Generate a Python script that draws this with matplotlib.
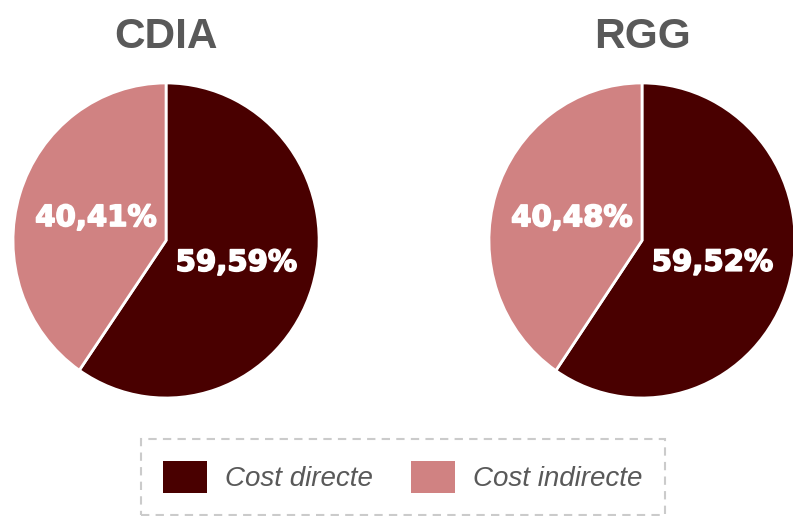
import matplotlib
matplotlib.use("Agg")
import matplotlib.pyplot as plt
from matplotlib.patches import Patch
import matplotlib.patheffects as pe

titles = ["CDIA", "RGG"]
categories = ["Cost directe", "Cost indirecte"]
direct = [59.59, 59.52]
indirect = [40.41, 40.48]
colors = ["#490000", "#D08282"]

fig = plt.figure(figsize=(7.93, 5.16), dpi=100)

# pie boxes in figure fractions (left, right)
boxes = [[0.0164, 0.2287, 0.386, 0.6105],
         [0.6166, 0.2287, 0.386, 0.6105]]


def fmt(p):
    return ("%.2f%%" % p).replace(".", ",")


for i in range(len(titles)):
    ax = fig.add_axes(boxes[i])
    wedges, texts, autotexts = ax.pie(
        [direct[i], indirect[i]], colors=colors, startangle=90,
        counterclock=False, autopct=fmt, pctdistance=0.48,
        wedgeprops=dict(edgecolor="white", linewidth=2))
    for t in autotexts:
        t.set_color("white")
        t.set_fontweight("bold")
        t.set_fontsize(21)
        t.set_family("DejaVu Sans")
        t.set_path_effects([pe.withStroke(linewidth=1.2, foreground="white")])
    ax.set_aspect("auto")
    ax.set_xlim(-1.0, 1.0)
    ax.set_ylim(-1.0, 1.0)
    ax.axis("off")
    cx = boxes[i][0] + boxes[i][2] / 2
    fig.text(cx, 0.907, titles[i], ha="center", va="baseline",
             fontsize=30.5, fontweight="bold", color="#595959",
             family="Liberation Sans")

handles = [Patch(facecolor=c, edgecolor="none") for c in colors]
leg = fig.legend(handles, categories, loc="center", bbox_to_anchor=(0.508, 0.0756),
                 ncol=2, frameon=True, fancybox=False,
                 prop=dict(family="Liberation Sans", style="italic", size=20),
                 handlelength=1.58, handleheight=1.4, handletextpad=0.65,
                 columnspacing=1.37, borderpad=0.8, borderaxespad=0)
for t in leg.get_texts():
    t.set_color("#595959")
frame = leg.get_frame()
frame.set_edgecolor("#BFBFBF")
frame.set_linewidth(1.5)
frame.set_linestyle((0, (4, 3)))

fig.savefig("out.png", dpi=100)
